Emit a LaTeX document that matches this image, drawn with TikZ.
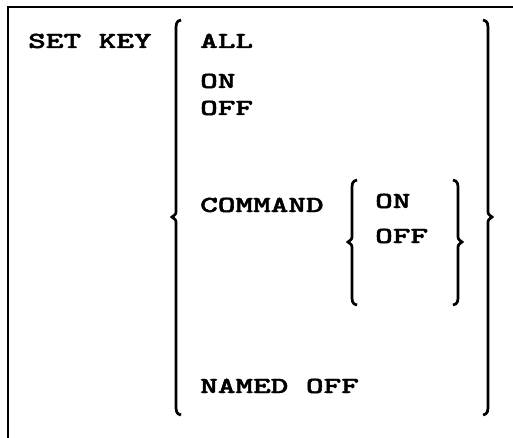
\documentclass[tikz,border=0pt]{standalone}
\usepackage{fontspec}
\newfontfamily\cour{lmmonolt10-bold}[Extension=.otf, FakeBold=1.6]
\tikzset{
  kw/.style={anchor=base west, inner sep=0pt, font=\cour\fontsize{23}{23}\selectfont},
  frameline/.style={line width=2pt, black},
  bracepath/.style={line width=2.7pt, black, line cap=butt}
}
\newcommand{\kwt}[1]{\scalebox{1.46}[1]{#1}}
\begin{document}
\begin{tikzpicture}[x=1pt,y=-1pt]
\useasboundingbox (0,0) rectangle (513,438);
% frame (only top and left edges visible)
\coordinate (ftl) at (8,7);
\coordinate (ftr) at (513,7);
\coordinate (fbl) at (8,438);
\draw[frameline] (ftr) -- (ftl) -- (fbl);
% texts
\node[kw] (setkey) at (28,48) {\kwt{SET KEY}};
\node[kw] (all) at (200,48) {\kwt{ALL}};
\node[kw] (on) at (200,88) {\kwt{ON}};
\node[kw] (off) at (200,115) {\kwt{OFF}};
\node[kw] (command) at (200,212) {\kwt{COMMAND}};
\node[kw] (con) at (375,208) {\kwt{ON}};
\node[kw] (coff) at (375,243) {\kwt{OFF}};
\node[kw] (named) at (200,393) {\kwt{NAMED OFF}};
% big left brace
\coordinate (blt) at (181,20);
\coordinate (blm) at (172,217);
\coordinate (blb) at (181,415);
\draw[bracepath] (blt) .. controls (176,21) and (176,24) .. (176,31)
  -- (176,210) .. controls (176,214) .. (blm) .. controls (176,220) .. (176,224)
  -- (176,404) .. controls (176,411) and (176,414) .. (blb);
% big right brace
\coordinate (brt) at (483,20);
\coordinate (brm) at (492,217);
\coordinate (brb) at (483,415);
\draw[bracepath] (brt) .. controls (488,21) and (488,24) .. (488,31)
  -- (488,210) .. controls (488,214) .. (brm) .. controls (488,220) .. (488,224)
  -- (488,404) .. controls (488,411) and (488,414) .. (brb);
% small left brace
\coordinate (slt) at (357,180);
\coordinate (slm) at (348,242);
\coordinate (slb) at (357,305);
\draw[bracepath] (slt) .. controls (352,181) and (352,184) .. (352,190)
  -- (352,235) .. controls (352,239) .. (slm) .. controls (352,245) .. (352,249)
  -- (352,295) .. controls (352,301) and (352,304) .. (slb);
% small right brace
\coordinate (srt) at (453,180);
\coordinate (srm) at (462,242);
\coordinate (srb) at (453,305);
\draw[bracepath] (srt) .. controls (458,181) and (458,184) .. (458,190)
  -- (458,235) .. controls (458,239) .. (srm) .. controls (458,245) .. (458,249)
  -- (458,295) .. controls (458,301) and (458,304) .. (srb);
\end{tikzpicture}
\end{document}
